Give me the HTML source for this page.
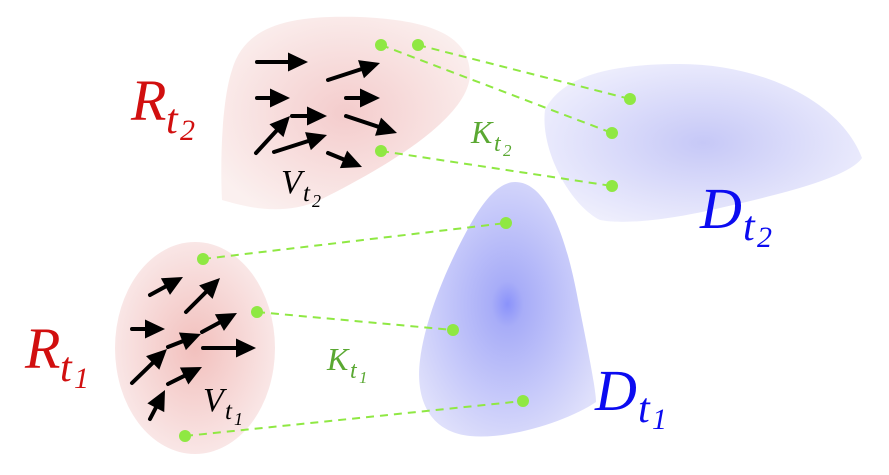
<!DOCTYPE html>
<html><head><meta charset="utf-8"><style>
html,body{margin:0;padding:0;background:#fff;}
svg{display:block;}
text{font-family:"Liberation Serif",serif;font-style:italic;}
</style></head><body>
<svg id="s" width="889" height="475" viewBox="0 0 889 475" xmlns="http://www.w3.org/2000/svg">
<defs>
<radialGradient id="rg1" cx="0.5" cy="0.5" r="0.55">
<stop offset="0" stop-color="#f2c0bd"/><stop offset="1" stop-color="#faeaea"/></radialGradient>
<radialGradient id="rg2" cx="0.5" cy="0.5" r="0.6">
<stop offset="0" stop-color="#f4cccc"/><stop offset="1" stop-color="#fbf0ef"/></radialGradient>
<radialGradient id="bg1" cx="0.5" cy="0.48" r="0.6">
<stop offset="0" stop-color="#8a92fa"/><stop offset="0.15" stop-color="#a8adf8"/><stop offset="1" stop-color="#dfe0fb"/></radialGradient>
<radialGradient id="bg2" cx="0.5" cy="0.5" r="0.6">
<stop offset="0" stop-color="#c6c8f7"/><stop offset="1" stop-color="#f0f0fd"/></radialGradient>
</defs>
<ellipse cx="195" cy="348" rx="80" ry="106" fill="url(#rg1)"/>
<path d="M232,70 C245,25 290,15 360,17 C430,20 470,35 470,75 C468,120 380,170 320,200 C280,218 240,205 222,200 C220,160 222,100 232,70 Z" fill="url(#rg2)"/>
<path d="M545,110 C560,80 600,64 680,64 C760,64 840,100 862,158 C850,175 800,190 720,208 C660,222 620,224 600,220 C570,205 540,150 545,110 Z" fill="url(#bg2)"/>
<path d="M515,182 C545,182 565,230 578,300 C588,350 596,390 596,402 C570,420 510,440 470,436 C430,432 415,400 420,360 C425,320 445,270 470,225 C485,198 500,182 515,182 Z" fill="url(#bg1)"/>
<g id="arrows"></g>
<g stroke="#8fe843" stroke-width="2" stroke-dasharray="8,6" fill="none">
<line x1="381" y1="45" x2="612" y2="133"/>
<line x1="418" y1="45" x2="630" y2="99"/>
<line x1="381" y1="151" x2="612" y2="186"/>
<line x1="203" y1="259" x2="506" y2="223"/>
<line x1="257" y1="312" x2="453" y2="330"/>
<line x1="185" y1="436" x2="523" y2="401"/>
</g>
<g fill="#8fe843">
<circle cx="381" cy="45" r="6"/><circle cx="418" cy="45" r="6"/>
<circle cx="630" cy="99" r="6"/><circle cx="612" cy="133" r="6"/>
<circle cx="381" cy="151" r="6"/><circle cx="612" cy="186" r="6"/>
<circle cx="506" cy="223" r="6"/><circle cx="203" cy="259" r="6"/>
<circle cx="257" cy="312" r="6"/><circle cx="453" cy="330" r="6"/>
<circle cx="523" cy="401" r="6"/><circle cx="185" cy="436" r="6"/>
</g>
<g fill="#d10f0f">
<text x="131" y="120" font-size="58">R</text><text x="166" y="133" font-size="42">t</text><text x="180" y="140" font-size="30" font-style="normal">2</text>
<text x="25" y="368" font-size="58">R</text><text x="60" y="381" font-size="42">t</text><text x="74" y="388" font-size="30" font-style="normal">1</text>
</g>
<g fill="#0b0bf0">
<text x="700" y="228" font-size="58">D</text><text x="743" y="240" font-size="42">t</text><text x="757" y="247" font-size="30" font-style="normal">2</text>
<text x="595" y="410" font-size="58">D</text><text x="638" y="422" font-size="42">t</text><text x="652" y="429" font-size="30" font-style="normal">1</text>
</g>
<g fill="#5aa832">
<text x="471" y="143" font-size="32">K</text><text x="494" y="151" font-size="24">t</text><text x="503" y="156" font-size="17" font-style="normal">2</text>
<text x="327" y="370" font-size="32">K</text><text x="350" y="378" font-size="24">t</text><text x="359" y="383" font-size="17" font-style="normal">1</text>
</g>
<g fill="#000">
<text x="281" y="193" font-size="34">V</text><text x="303" y="201" font-size="25">t</text><text x="312" y="207" font-size="18" font-style="normal">2</text>
<text x="203" y="411" font-size="34">V</text><text x="225" y="419" font-size="25">t</text><text x="234" y="425" font-size="18" font-style="normal">1</text>
</g>
</svg>
<script>
var A=[[257,62,308,62],[257,98,290,98],[328,80,380,63],[346,98,380,98],[292,116,327,116],[256,153,290,116],[274,152,327,135],[346,116,397,133],[328,153,362,167],
[150,295,183,277],[186,312,220,278],[132,329,165,329],[168,347,201,334],[202,332,237,313],[203,348,256,348],[132,383,167,349],[168,384,202,367],[150,419,165,390]];
var g=document.getElementById('arrows'),h='';
A.forEach(function(a){var dx=a[2]-a[0],dy=a[3]-a[1],L=Math.hypot(dx,dy),ux=dx/L,uy=dy/L,px=-uy,py=ux,HL=20,HW=9.5;
var bx=a[2]-ux*HL,by=a[3]-uy*HL;
h+='<line x1="'+a[0]+'" y1="'+a[1]+'" x2="'+(bx+ux*2)+'" y2="'+(by+uy*2)+'" stroke="#000" stroke-width="4" stroke-linecap="round"/>';
h+='<polygon fill="#000" points="'+a[2]+','+a[3]+' '+(bx+px*HW)+','+(by+py*HW)+' '+(bx-px*HW)+','+(by-py*HW)+'"/>';});
g.innerHTML=h;
</script>
</body></html>
